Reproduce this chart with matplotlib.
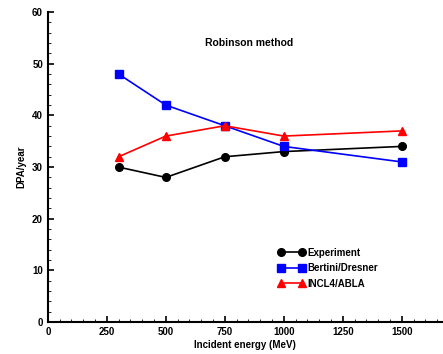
import numpy as np
import matplotlib.pyplot as plt
from matplotlib.ticker import MultipleLocator

plt.rcParams['font.family'] = ['Liberation Sans', 'DejaVu Sans']
plt.rcParams['font.weight'] = 'bold'

energy = [300, 500, 750, 1000, 1500]
experiment = [30, 28, 32, 33, 34]
bertini = [48, 42, 38, 34, 31]
incl = [32, 36, 38, 36, 37]

fig = plt.figure(figsize=(4.43, 3.54), dpi=100)
ax = fig.add_axes([0.108, 0.09, 0.892, 0.876])

ax.plot(energy, experiment, '-o', color='black', lw=1.2, ms=5.5, label='Experiment')
ax.plot(energy, bertini, '-s', color='blue', lw=1.2, ms=5.5, label='Bertini/Dresner')
ax.plot(energy, incl, '-^', color='red', lw=1.2, ms=5.5, label='INCL4/ABLA')

ax.set_xlim(0, 1675)
ax.set_ylim(0, 60)
ax.xaxis.set_major_locator(MultipleLocator(250))
ax.xaxis.set_minor_locator(MultipleLocator(50))
ax.yaxis.set_major_locator(MultipleLocator(10))
ax.yaxis.set_minor_locator(MultipleLocator(2))
ax.tick_params(which='both', direction='in', labelsize=7)
ax.tick_params(which='major', length=4, width=1.2)
ax.tick_params(which='minor', length=2)
for s in ['top', 'right']:
    ax.spines[s].set_visible(False)
for s in ['left', 'bottom']:
    ax.spines[s].set_linewidth(1.5)

ax.set_xlabel('Incident energy (MeV)', fontsize=7, fontweight='bold', labelpad=2)
ax.set_ylabel('DPA/year', fontsize=7, fontweight='bold', labelpad=4)
ax.text(0.51, 0.89, 'Robinson method', transform=ax.transAxes, fontsize=7.5,
        fontweight='bold', ha='center')

ax.legend(loc='lower left', bbox_to_anchor=(0.56, 0.08), frameon=False, fontsize=7,
          numpoints=2, handlelength=2.8, handletextpad=0.2, labelspacing=0.55)

fig.savefig('out.png', dpi=100)
